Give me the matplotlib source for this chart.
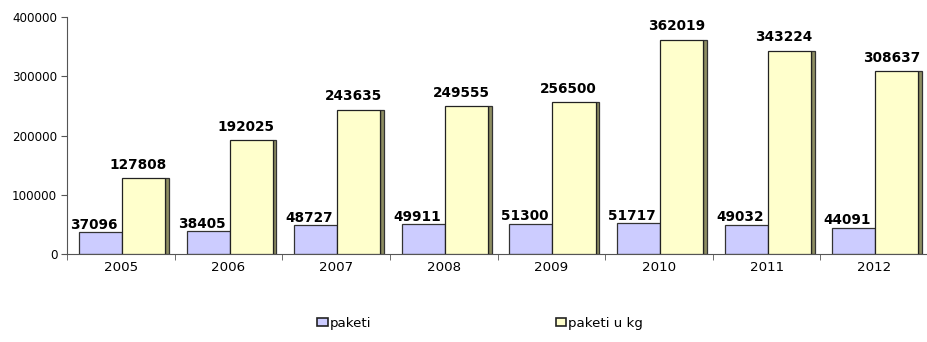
import matplotlib
matplotlib.use("Agg")
import matplotlib.pyplot as plt
from matplotlib.patches import Patch
import numpy as np

years = ["2005", "2006", "2007", "2008", "2009", "2010", "2011", "2012"]
paketi = [37096, 38405, 48727, 49911, 51300, 51717, 49032, 44091]
paketi_kg = [127808, 192025, 243635, 249555, 256500, 362019, 343224, 308637]

plt.rcParams["font.family"] = ["DejaVu Sans"]

fig = plt.figure(figsize=(9.28, 3.42), dpi=100)
ax = fig.add_axes([0.0722, 0.2573, 0.9278, 0.6927])

x = np.arange(len(years))
w = 0.40
blue_left = x - 0.389
yel_left = blue_left + w
side_w = 0.035

ax.bar(blue_left, paketi, width=w, align="edge", color="#CCCCFF",
       edgecolor="#333333", linewidth=0.9, zorder=2)
ax.bar(yel_left + w, paketi_kg, width=side_w, align="edge", color="#8E8E62",
       edgecolor="#333333", linewidth=0.9, zorder=2)
ax.bar(yel_left, paketi_kg, width=w, align="edge", color="#FFFFCC",
       edgecolor="#222222", linewidth=0.9, zorder=3)

for i in range(len(years)):
    ax.text(blue_left[i] + w / 2 - 0.06, paketi[i] + 800, f"{paketi[i]}",
            ha="center", va="bottom", fontsize=9.8, fontweight="bold", zorder=5)
    ax.text(yel_left[i] + w / 2 - 0.05, paketi_kg[i] + 11000, f"{paketi_kg[i]}",
            ha="center", va="bottom", fontsize=9.8, fontweight="bold", zorder=5)

ax.set_xlim(-0.5, 7.47)
ax.set_ylim(0, 400000)
ax.set_yticks([0, 100000, 200000, 300000, 400000])
ax.set_yticklabels(["0", "100000", "200000", "300000", "400000"], fontsize=8.6)
ax.set_xticks(x)
ax.set_xticklabels(years, fontsize=9.6)
ax.set_xticks(np.arange(-0.5, 8, 1), minor=True)
ax.tick_params(axis="x", which="major", length=0, pad=5)
ax.tick_params(axis="x", which="minor", length=4, direction="out", color="#555555")
ax.tick_params(axis="y", length=4, direction="out", color="#555555", pad=3)
for s in ("top", "right"):
    ax.spines[s].set_visible(False)
ax.spines["left"].set_color("#555555")
ax.spines["bottom"].set_color("#555555")

handles = [Patch(facecolor="#CCCCFF", edgecolor="#222222", linewidth=1.2),
           Patch(facecolor="#FFFFCC", edgecolor="#222222", linewidth=1.2)]
fig.legend(handles[:1], ["paketi"], loc="center left", bbox_to_anchor=(0.336, 0.055),
           frameon=False, fontsize=9.6, handlelength=0.8, handleheight=0.65,
           handletextpad=0.15, borderaxespad=0)
fig.legend(handles[1:], ["paketi u kg"], loc="center left", bbox_to_anchor=(0.593, 0.055),
           frameon=False, fontsize=9.6, handlelength=0.8, handleheight=0.65,
           handletextpad=0.15, borderaxespad=0)

fig.savefig("out.png", dpi=100)
